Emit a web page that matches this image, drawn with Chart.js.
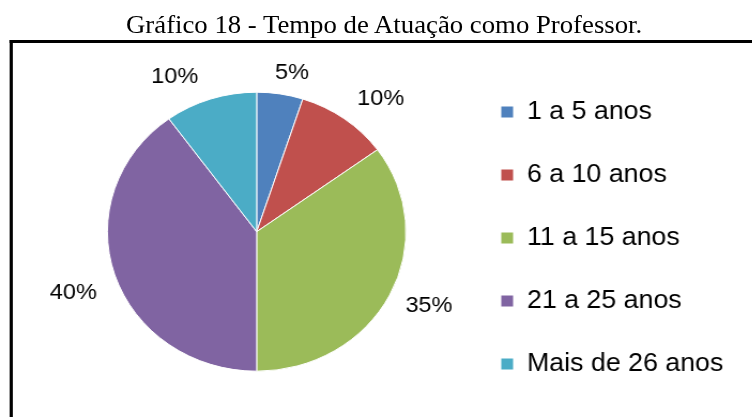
<!DOCTYPE html>
<html lang="pt-BR">
<head>
<meta charset="utf-8">
<title>Tempo de Atuação como Professor</title>
<script src="https://cdn.jsdelivr.net/npm/chart.js@4.4.1/dist/chart.umd.min.js"></script>
<style>
  html, body { margin: 0; padding: 0; background: #fff; overflow: hidden; }
  /* a figura original é ligeiramente esticada na horizontal */
  #pagina { position: relative; width: 703px; height: 417px; transform: scaleX(1.07); transform-origin: 0 0; }
  #titulo { position: absolute; left: 0; top: 9.6px; width: 718px; text-align: center;
            font: 25px/30px 'Liberation Serif', 'Times New Roman', serif; color: #000; white-space: nowrap; }
  #moldura { position: absolute; left: 9px; top: 40px; width: 760px; height: 420px;
             border-left: 3px solid #000; border-top: 3px solid #000; }
  #grafico { position: absolute; left: 0; top: 0; }
</style>
</head>
<body>
<div id="pagina">
  <div id="titulo">Gráfico 18 - Tempo de Atuação como Professor.</div>
  <div id="moldura"></div>
  <canvas id="grafico" width="703" height="417"></canvas>
</div>
<script>
// Dados
const categorias = ["1 a 5 anos", "6 a 10 anos", "11 a 15 anos", "21 a 25 anos", "Mais de 26 anos"];
const percentuais = [5, 10, 35, 40, 10];
const cores = ["#4F81BD", "#C0504D", "#9BBB59", "#8064A2", "#4BACC6"];

const fonteSans = "'Liberation Sans', Arial, sans-serif";

// rótulos de porcentagem do lado de fora das fatias
const rotulosPorcentagem = {
  id: 'rotulosPorcentagem',
  afterDatasetsDraw(chart, args, opts) {
    const ctx = chart.ctx;
    const arcos = chart.getDatasetMeta(0).data;
    ctx.save();
    ctx.font = opts.fonte;
    ctx.fillStyle = '#000';
    ctx.textAlign = 'center';
    ctx.textBaseline = 'middle';
    arcos.forEach((arco, i) => {
      const p = arco.getProps(['x', 'y', 'startAngle', 'endAngle'], true);
      const ang = (p.startAngle + p.endAngle) / 2 + opts.desvio[i] * Math.PI / 180;
      const r = opts.distancia[i];
      ctx.fillText(percentuais[i] + '%', p.x + Math.cos(ang) * r, p.y + Math.sin(ang) * r);
    });
    ctx.restore();
  }
};

function criarGrafico(){
  new Chart(document.getElementById('grafico'), {
    type: 'pie',
    data: {
      labels: categorias,
      datasets: [{
        data: percentuais,
        backgroundColor: cores,
        borderColor: '#fff',
        borderWidth: 1,
        radius: 139.5
      }]
    },
    plugins: [rotulosPorcentagem],
    options: {
      responsive: false,
      animation: false,
      devicePixelRatio: 1,
      layout: { padding: { left: 49.8, right: 23, top: 46.4, bottom: 0 } },
      plugins: {
        tooltip: { enabled: false },
        legend: {
          position: 'right',
          fullSize: false,
          maxWidth: 250,
          title: { display: true, text: '', font: { size: 8 }, padding: { top: 3, bottom: 0 } },
          labels: {
            boxWidth: 12,
            boxHeight: 12,
            padding: 38,
            color: '#000',
            font: { family: fonteSans, size: 25 }
          }
        },
        rotulosPorcentagem: {
          fonte: '22px ' + fonteSans,
          desvio: [2.7, 5.1, -2.1, -1.8, -8.3],
          distancia: [162.6, 176.2, 177.5, 182.2, 172.9]
        }
      }
    }
  });
}

document.addEventListener('DOMContentLoaded', criarGrafico);
</script>
</body>
</html>
